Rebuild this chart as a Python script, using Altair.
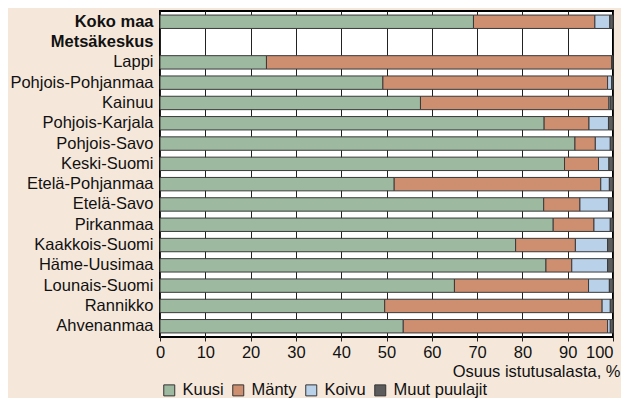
import altair as alt
import pandas as pd

regions = ["Koko maa", "Metsäkeskus", "Lappi", "Pohjois-Pohjanmaa", "Kainuu",
           "Pohjois-Karjala", "Pohjois-Savo", "Keski-Suomi", "Etelä-Pohjanmaa",
           "Etelä-Savo", "Pirkanmaa", "Kaakkois-Suomi", "Häme-Uusimaa",
           "Lounais-Suomi", "Rannikko", "Ahvenanmaa"]
bar_regions = [r for r in regions if r != "Metsäkeskus"]

kuusi = [69.2, 23.5, 49.2, 57.5, 84.8, 91.6, 89.3, 51.7, 84.7, 86.8, 78.5, 85.2, 65.0, 49.6, 53.7]
manty = [26.8, 76.2, 49.6, 41.6, 9.9, 4.5, 7.5, 45.6, 8.0, 9.0, 13.2, 5.7, 29.6, 48.0, 45.1]
koivu = [3.3, 0.1, 0.9, 0.3, 4.3, 3.3, 2.3, 1.9, 6.3, 3.6, 7.1, 7.9, 4.6, 1.8, 0.6]
muut = [0.7, 0.2, 0.3, 0.6, 1.0, 0.6, 0.9, 0.8, 1.0, 0.6, 1.2, 1.2, 0.8, 0.6, 0.6]

species = ["Kuusi", "Mänty", "Koivu", "Muut puulajit"]
colors = ["#9db9a0", "#cd8f6f", "#bad1ea", "#5c5c5c"]
x_ticks = list(range(0, 101, 10))

rows = []
for i, sp_vals in enumerate([kuusi, manty, koivu, muut]):
    for r, v in zip(bar_regions, sp_vals):
        rows.append({"alue": r, "laji": species[i], "osuus": v, "idx": i})
df = pd.DataFrame(rows)

FONT = "Liberation Sans, Arial, sans-serif"
FS = 16.5

chart = alt.Chart(df).mark_bar(stroke="#3a3a3a", strokeWidth=1).encode(
    x=alt.X("osuus:Q", stack="zero",
            scale=alt.Scale(domain=[0, 100], nice=False),
            axis=alt.Axis(values=x_ticks, grid=True, gridColor="#222222", gridWidth=1,
                          gridOpacity=1, tickColor="#222222", tickSize=4, tickWidth=1,
                          domain=False, labelFontSize=FS, labelPadding=3,
                          labelColor="#111111", labelFont=FONT,
                          labelAlign=alt.ExprRef(expr="datum.value == 100 ? 'right' : 'center'"),
                          title="Osuus istutusalasta, %", titleFont=FONT,
                          titleFontSize=FS, titleFontWeight="normal", titleColor="#111111",
                          titleAlign="right", titleAnchor="end", titleX=460, titleY=39,
                          titleBaseline="alphabetic")),
    y=alt.Y("alue:N",
            scale=alt.Scale(domain=regions, paddingInner=0.34, paddingOuter=0.2),
            axis=alt.Axis(title=None, ticks=False, domain=False, labelFontSize=FS,
                          labelPadding=7, labelColor="#111111", labelFont=FONT,
                          labelFontWeight=alt.ExprRef(expr="datum.value == 'Koko maa' || datum.value == 'Metsäkeskus' ? 'bold' : 'normal'"))),
    color=alt.Color("laji:N", scale=alt.Scale(domain=species, range=colors),
                    legend=alt.Legend(orient="none", legendX=1, legendY=371,
                                      direction="horizontal", title=None,
                                      symbolType="square", symbolSize=121,
                                      symbolStrokeColor="#333333", symbolStrokeWidth=1,
                                      symbolOpacity=1, labelFontSize=FS, labelFont=FONT,
                                      labelColor="#111111", labelOffset=5,
                                      columnPadding=6)),
    order=alt.Order("idx:Q", sort="ascending"),
).properties(
    width=453, height=326,
    autosize="none",
    padding={"left": 152, "top": 3, "right": 8, "bottom": 61},
).configure(background="#f5e8db").configure_view(fill="white", stroke="black", strokeWidth=2)

chart.save("out.html", embed_options={"renderer": "svg", "actions": False})
